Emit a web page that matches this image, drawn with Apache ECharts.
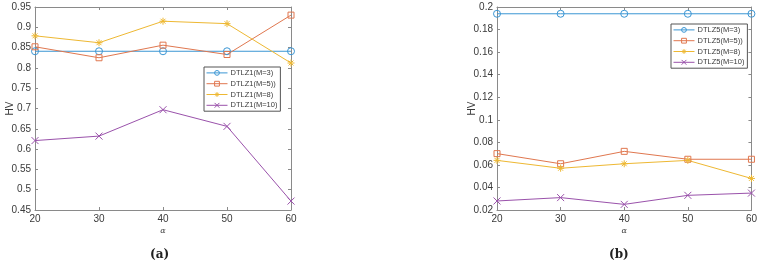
<!DOCTYPE html>
<html lang="en">
<head>
    <meta charset="UTF-8">
    <title>HV vs alpha</title>
    <script src="https://cdn.jsdelivr.net/npm/echarts@6/dist/echarts.min.js"></script>
</head>
<body style="margin:0">
<div id="my" style="width: 760px;height: 264px;"></div>
<script>
    // x values (alpha)
    var alphas = [20, 30, 40, 50, 60]
    // (a) DTLZ1
    var d1Names = ['DTLZ1(M=3)', 'DTLZ1(M=5))', 'DTLZ1(M=8)', 'DTLZ1(M=10)']
    var d1M3 = [0.841, 0.841, 0.841, 0.841, 0.841]
    var d1M5 = [0.852, 0.825, 0.856, 0.833, 0.930]
    var d1M8 = [0.879, 0.862, 0.915, 0.909, 0.812]
    var d1M10 = [0.621, 0.632, 0.697, 0.656, 0.472]
    // (b) DTLZ5
    var d5Names = ['DTLZ5(M=3)', 'DTLZ5(M=5))', 'DTLZ5(M=8)', 'DTLZ5(M=10)']
    var d5M3 = [0.194, 0.194, 0.194, 0.194, 0.194]
    var d5M5 = [0.070, 0.061, 0.072, 0.065, 0.065]
    var d5M8 = [0.064, 0.057, 0.061, 0.064, 0.048]
    var d5M10 = [0.028, 0.031, 0.025, 0.033, 0.035]

    var colors = ['#3b96d4', '#e0774f', '#eeb832', '#9a52ab']
    var axisCol = '#8a8a8a'
    var textCol = '#3a3a3a'
    var font = 'Liberation Sans'

    // marker shapes (outline only): circle, square, asterisk, x
    var symbols = [
        'path://M10 5A5 5 0 1 1 0 5A5 5 0 1 1 10 5Z',
        'path://M0 0L10 0L10 10L0 10Z',
        'path://M5 0L5 10M0 5L10 5M1.5 1.5L8.5 8.5M8.5 1.5L1.5 8.5',
        'path://M0 0L10 10M10 0L0 10'
    ]

    function pairs(ys) {
        return alphas.map(function (a, i) { return [a, ys[i]] })
    }

    function makeSeries(names, lists, axisIdx) {
        return lists.map(function (ys, i) {
            return {
                name: names[i],
                type: 'line',
                xAxisIndex: axisIdx,
                yAxisIndex: axisIdx,
                data: pairs(ys),
                symbol: symbols[i],
                symbolSize: i === 1 ? 6 : 7,
                lineStyle: { width: 1, color: colors[i] },
                itemStyle: { color: 'none', borderColor: colors[i], borderWidth: 1 },
                color: colors[i],
                emphasis: { disabled: true },
                animation: false
            }
        })
    }

    function xAx(gi, pos, show) {
        return {
            type: 'value', gridIndex: gi, position: pos, min: 20, max: 60, interval: 10,
            axisLine: { show: true, lineStyle: { color: axisCol } },
            axisTick: { show: true, inside: true, length: 3, lineStyle: { color: axisCol } },
            axisLabel: { show: show, color: textCol, fontFamily: font, fontSize: 10, margin: 4 },
            splitLine: { show: false },
            name: show ? 'α' : '', nameLocation: 'middle', nameGap: 17, nameMoveOverlap: false,
            nameTextStyle: { fontFamily: 'DejaVu Serif', fontStyle: 'italic', fontSize: 8, color: textCol }
        }
    }

    function yAx(gi, pos, show, min, max, step) {
        return {
            type: 'value', gridIndex: gi, position: pos, min: min, max: max, interval: step,
            axisLine: { show: true, lineStyle: { color: axisCol } },
            axisTick: { show: true, inside: true, length: 3, lineStyle: { color: axisCol } },
            axisLabel: { show: show, color: textCol, fontFamily: font, fontSize: 10, margin: 4,
                formatter: function (v) { return String(+v.toFixed(3)) } },
            splitLine: { show: false },
            name: show ? 'HV' : '', nameLocation: 'middle', nameGap: 20, nameRotate: 90,
            nameMoveOverlap: false,
            nameTextStyle: { fontFamily: font, fontSize: 10, color: textCol }
        }
    }

    function legend(names, left, top) {
        return {
            data: names, left: left, top: top, orient: 'vertical',
            itemWidth: 21, itemHeight: 6, itemGap: 1,
            padding: [1, 3, 1, 2],
            borderColor: '#555', borderWidth: 1, backgroundColor: '#fff',
            itemStyle: { color: 'none', borderWidth: 1 },
            lineStyle: { width: 1 },
            textStyle: { fontFamily: font, fontSize: 7.5, lineHeight: 9, color: textCol, padding: [0, 0, 0, -2] },
            selectedMode: false
        }
    }

    var mCharts = echarts.init(document.getElementById('my'))
    var option = {
        animation: false,
        backgroundColor: '#fff',
        title: [
            { text: '(a)', left: 145, top: 244,
              textStyle: { fontFamily: 'DejaVu Serif', fontSize: 12, fontWeight: 'bold', color: '#222' } },
            { text: '(b)', left: 604, top: 244,
              textStyle: { fontFamily: 'DejaVu Serif', fontSize: 12, fontWeight: 'bold', color: '#222' } }
        ],
        legend: [legend(d1Names, 204, 67), legend(d5Names, 671, 24)],
        grid: [
            { left: 35, top: 7, width: 256, height: 203 },
            { left: 497, top: 7, width: 255, height: 203 }
        ],
        xAxis: [xAx(0, 'bottom', true), xAx(1, 'bottom', true), xAx(0, 'top', false), xAx(1, 'top', false)],
        yAxis: [yAx(0, 'left', true, 0.45, 0.95, 0.05), yAx(1, 'left', true, 0.02, 0.2, 0.02),
                yAx(0, 'right', false, 0.45, 0.95, 0.05), yAx(1, 'right', false, 0.02, 0.2, 0.02)],
        series: makeSeries(d1Names, [d1M3, d1M5, d1M8, d1M10], 0)
            .concat(makeSeries(d5Names, [d5M3, d5M5, d5M8, d5M10], 1))
    }
    mCharts.setOption(option)
</script>
</body>
</html>
